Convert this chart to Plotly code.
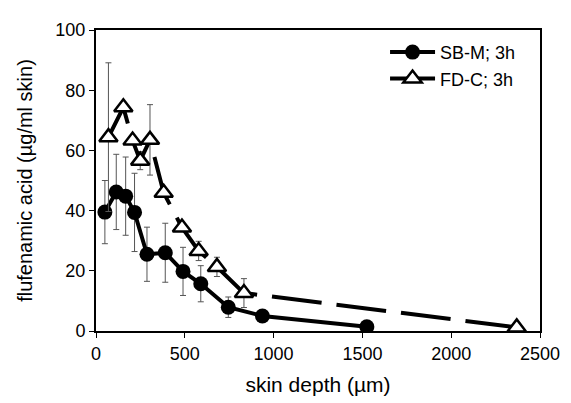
import plotly.graph_objects as go

# SB-M; 3h
sbm_x = [50, 114, 167, 217, 287, 390, 490, 590, 745, 937, 1525]
sbm_y = [39.5, 46.2, 44.8, 39.4, 25.5, 26.0, 19.8, 15.7, 7.9, 5.0, 1.4]
sbm_err = [10.5, 12.5, 13.0, 13.0, 9.0, 9.8, 8.0, 6.0, 3.4, 0, 0]

# FD-C; 3h
fdc_x = [70, 154, 206, 249, 304, 381, 484, 578, 681, 833, 2369]
fdc_y = [64.4, 74.3, 63.3, 56.6, 63.5, 45.9, 34.4, 26.6, 21.3, 12.6, 1.2]
fdc_err = [24.7, 0, 0, 3.0, 11.7, 0, 0, 3.2, 3.2, 4.8, 0]

x_ticks = [0, 500, 1000, 1500, 2000, 2500]
y_ticks = [0, 20, 40, 60, 80, 100]

FONT = "Liberation Sans, Arial, Helvetica, sans-serif"

fig = go.Figure()

fig.add_trace(go.Scatter(
    x=sbm_x, y=sbm_y, name="SB-M; 3h", mode="lines+markers",
    line=dict(color="black", width=4),
    marker=dict(symbol="circle", size=15, color="black"),
    error_y=dict(type="data", array=sbm_err, visible=True,
                 color="#555555", thickness=1, width=3),
))

fig.add_trace(go.Scatter(
    x=fdc_x, y=fdc_y, name="FD-C; 3h", mode="lines+markers",
    line=dict(color="black", width=4, dash="50px,15px"),
    marker=dict(symbol="triangle-up", size=16, color="white",
                line=dict(color="black", width=2.5)),
    error_y=dict(type="data", array=fdc_err, visible=True,
                 color="#555555", thickness=1, width=3),
))

fig.update_layout(
    width=571, height=403,
    margin=dict(l=88, r=39, t=12, b=80),
    paper_bgcolor="white", plot_bgcolor="white",
    font=dict(family=FONT, size=18, color="black"),
    showlegend=True,
    legend=dict(x=0.651, y=0.987, xanchor="left", yanchor="top",
                font=dict(family=FONT, size=18, color="black"),
                bgcolor="rgba(0,0,0,0)", itemwidth=45,
                tracegroupgap=4),
)

fig.update_xaxes(
    range=[0, 2500], tickvals=x_ticks, ticktext=[str(v) for v in x_ticks],
    showgrid=False, zeroline=False, showline=True, linecolor="black",
    linewidth=2, mirror=True, ticks="outside", ticklen=5, tickwidth=1,
    tickcolor="black", tickfont=dict(size=18),
    title=dict(text="skin depth (µm)", font=dict(size=21), standoff=15),
)
fig.update_yaxes(
    range=[0, 100], tickvals=y_ticks, ticktext=[str(v) for v in y_ticks],
    showgrid=False, zeroline=False, showline=True, linecolor="black",
    linewidth=2, mirror=True, ticks="outside", ticklen=5, tickwidth=1,
    tickcolor="black", tickfont=dict(size=18),
    title=dict(text="flufenamic acid (µg/ml skin)", font=dict(size=20), standoff=17),
)

fig.write_html("out.html")
